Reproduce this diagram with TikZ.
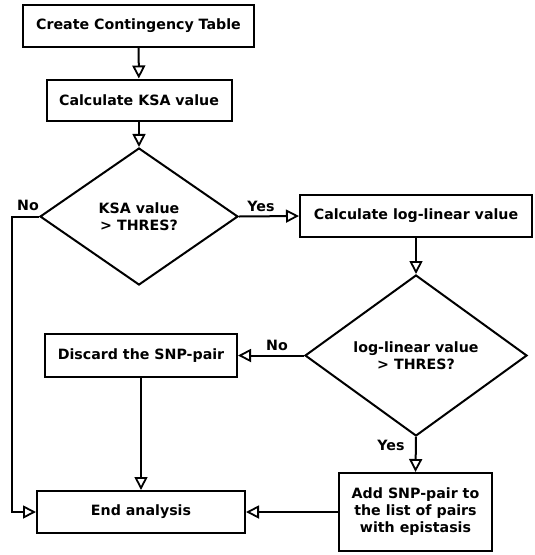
\documentclass[tikz,border=0pt]{standalone}
\usepackage{fontspec}
\setmainfont{DejaVu Sans}
\usetikzlibrary{shapes.geometric,arrows.meta}
\begin{document}
\begin{tikzpicture}[x=1pt,y=-1pt,
  every node/.style={font=\bfseries\fontsize{14.2}{17}\selectfont},
  box/.style={draw,line width=2pt,inner sep=0pt,align=center},
  dec/.style={draw,diamond,line width=2pt,inner sep=0pt,align=center},
  flow/.style={line width=2pt,-{Triangle[open,length=13pt,width=13pt,line width=1.8pt]}},
  lbl/.style={inner sep=1pt}]
\useasboundingbox (0,0) rectangle (535,555);
\node[box,minimum width=231,minimum height=42] (create) at (138.5,26) {Create Contingency Table};
\node[box,minimum width=185,minimum height=41] (ksa) at (139,100) {Calculate KSA value};
\node[dec,minimum width=198,minimum height=137] (d1) at (139,216.5) {KSA value\\ \textgreater{} THRES?};
\node[box,minimum width=232,minimum height=42] (loglin) at (416,216) {Calculate log-linear value};
\node[dec,minimum width=222,minimum height=161] (d2) at (416,355.5) {log-linear value\\ \textgreater{} THRES?};
\node[box,minimum width=192,minimum height=43] (discard) at (141,355.5) {Discard the SNP-pair};
\node[box,minimum width=208,minimum height=42] (end) at (141,512) {End analysis};
\node[box,minimum width=153,minimum height=78] (add) at (415.5,512) {Add SNP-pair to\\the list of pairs\\with epistasis};
\coordinate (c1) at (12,216.5);
\coordinate (c2) at (12,512);
\draw[flow] (create) -- (ksa);
\draw[flow] (ksa) -- (d1);
\draw[flow] (d1.east) -- (loglin.west);
\draw[flow] (loglin) -- (d2);
\draw[flow] (d2.west) -- (discard.east);
\draw[flow] (d2.south) -- (add.north);
\draw[flow] (discard.south) -- (end.north);
\draw[flow] (add.west) -- (end.east);
\draw[flow] (d1.west) -- (c1) -- (c2) -- (end.west);
\node[lbl] (no1) at (28,205) {No};
\node[lbl] (yes1) at (261,206) {Yes};
\node[lbl] (no2) at (277,345) {No};
\node[lbl] (yes2) at (391,445) {Yes};
\end{tikzpicture}
\end{document}
